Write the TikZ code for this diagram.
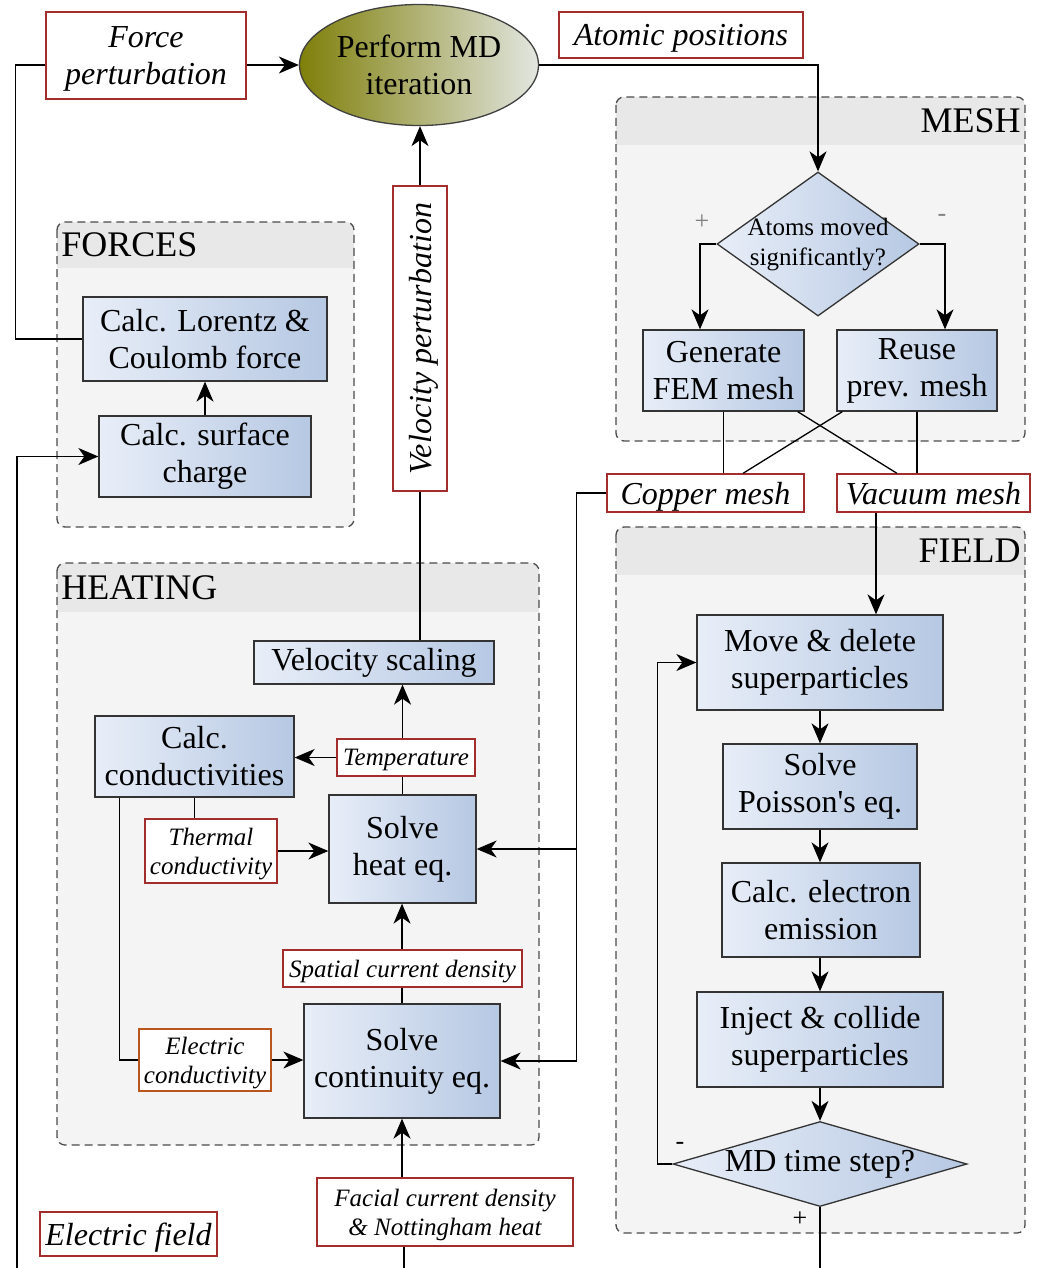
\documentclass[tikz,border=0pt]{standalone}
\usepackage{fontspec}
\setmainfont{Liberation Serif}
\usetikzlibrary{shapes.geometric,arrows.meta}
\definecolor{boxL}{HTML}{E8EEF8}
\definecolor{boxR}{HTML}{B6C8E3}
\definecolor{labred}{HTML}{A32D2D}
\definecolor{laborange}{HTML}{B8561E}
\definecolor{grpfill}{HTML}{F4F4F4}
\definecolor{grphead}{HTML}{E8E8E8}
\definecolor{grpline}{HTML}{4A4A4A}
\definecolor{oliveL}{HTML}{7F7F0A}
\definecolor{oliveR}{HTML}{E2E6E0}
\newcommand\mainf{\fontsize{16}{18.5}\selectfont}
\newcommand\smallf{\itshape\fontsize{12.5}{14.5}\selectfont}
\newcommand\bigit{\itshape\fontsize{16}{18.5}\selectfont}
\newcommand\grpf{\fontsize{18}{20}\selectfont}
\newcommand\mygroup[5]{%
  \begin{scope}
    \clip[rounded corners=4pt] (#1,#2) rectangle (#3,#4);
    \fill[grpfill] (#1,#2) rectangle (#3,#4);
    \fill[grphead] (#1,#2) rectangle (#3,#5);
  \end{scope}
  \draw[grpline, line width=0.65pt, dash pattern=on 4pt off 2.5pt, rounded corners=4pt] (#1,#2) rectangle (#3,#4);}
\tikzset{
  proc/.style={draw=black!80, line width=0.65pt, left color=boxL, right color=boxR, align=center, inner sep=0pt, font=\mainf},
  lab/.style={draw=labred, fill=white, line width=0.65pt, align=center, inner sep=0pt, text depth=0pt, font=\bigit},
  slab/.style={draw=labred, fill=white, line width=0.65pt, align=center, inner sep=0pt, text depth=0pt, font=\smallf},
  dia/.style={diamond, draw=black!80, line width=0.65pt, left color=boxL, right color=boxR, inner sep=0pt},
  arr/.style={-{Stealth[length=10pt,width=8.5pt,inset=3pt]}, line width=0.65pt},
  ln/.style={line width=0.65pt},
  grplab/.style={font=\grpf, inner sep=0pt},
  sign/.style={inner sep=0pt, font=\fontsize{13}{15}\selectfont}
}
\begin{document}
\begin{tikzpicture}[x=0.5pt,y=-0.5pt]
\useasboundingbox (0,0) rectangle (1050,1268);
% groups
\mygroup{616}{97}{1025}{441}{145}
\mygroup{57}{222}{354}{527}{268}
\mygroup{57}{563}{539}{1145}{612}
\mygroup{616}{527}{1025}{1233}{575}
\node[grplab, anchor=east] (gmesh) at (1021,121) {MESH};
\node[grplab, anchor=west] (gforces) at (61,245) {FORCES};
\node[grplab, anchor=west] (gheat) at (61,588) {HEATING};
\node[grplab, anchor=east] (gfield) at (1021,551) {FIELD};

% top
\node[ellipse, draw=black!75, line width=0.65pt, left color=oliveL, right color=oliveR, minimum width=119.5pt, minimum height=60.5pt, inner sep=0pt, align=center, font=\mainf] (md) at (419,65) {Perform MD\\iteration};
\node[lab, minimum width=100pt, minimum height=43.5pt] (force) at (146,55.5) {Force\\perturbation};
\node[lab, minimum width=122pt, minimum height=23pt] (atom) at (681,35) {Atomic positions};
\node[lab, rotate=90, minimum width=152.5pt, minimum height=27pt] (vp) at (420,338.5) {Velocity perturbation};

% mesh
\node[dia, minimum width=101pt, minimum height=72pt] (d1) at (818,244) {};
\node[align=center, inner sep=0pt, font=\fontsize{12.5}{15}\selectfont] (d1t) at (818,245) {Atoms moved\\significantly?};
\node[proc, minimum width=80.5pt, minimum height=40.5pt] (gen) at (723.5,370.5) {Generate\\FEM mesh};
\node[proc, minimum width=80pt, minimum height=40.5pt] (reuse) at (917,370.5) {Reuse\\prev. mesh};
\node[lab, minimum width=98.5pt, minimum height=19pt] (copper) at (705.5,493) {Copper mesh};
\node[lab, minimum width=96.5pt, minimum height=19pt] (vacuum) at (933.5,493) {Vacuum mesh};
\node[sign, text=black!50] (plus1) at (702,222) {+};
\node[sign, text=black!50] (minus1) at (942,218) {-};

% forces
\node[proc, minimum width=122pt, minimum height=42pt] (lor) at (205,339) {Calc. Lorentz \&\\Coulomb force};
\node[proc, minimum width=106pt, minimum height=40.5pt] (surf) at (205,456.5) {Calc. surface\\charge};

% heating
\node[proc, minimum width=120pt, minimum height=21.5pt] (vs) at (374,662.5) {Velocity scaling};
\node[proc, minimum width=99.5pt, minimum height=40.5pt] (cond) at (194.5,756.5) {Calc.\\conductivities};
\node[slab, minimum width=69pt, minimum height=18.5pt] (temp) at (406,757.5) {Temperature};
\node[proc, minimum width=73.5pt, minimum height=54pt] (heat) at (402.5,849) {Solve\\heat eq.};
\node[slab, minimum width=66pt, minimum height=32pt] (therm) at (211,851) {Thermal\\conductivity};
\node[slab, minimum width=119.5pt, minimum height=18.5pt] (spat) at (402.5,968.5) {Spatial current density};
\node[proc, minimum width=98pt, minimum height=57pt] (cont) at (402,1061) {Solve\\continuity eq.};
\node[slab, draw=laborange, minimum width=66pt, minimum height=31pt] (elec) at (205,1060) {Electric\\conductivity};
\node[slab, minimum width=128pt, minimum height=34pt, line width=0.9pt] (facial) at (445,1212) {Facial current density\\\& Nottingham heat};
\node[lab, minimum width=88.5pt, minimum height=22pt] (efield) at (128.5,1234) {Electric field};

% field
\node[proc, minimum width=123pt, minimum height=47.5pt] (move) at (820,662.5) {Move \& delete\\superparticles};
\node[proc, minimum width=97pt, minimum height=42.5pt] (pois) at (820,786.5) {Solve\\Poisson\textquotesingle s eq.};
\node[proc, minimum width=99pt, minimum height=47pt] (emis) at (821,910) {Calc. electron\\emission};
\node[proc, minimum width=123pt, minimum height=47.5pt] (inj) at (820,1039.5) {Inject \& collide\\superparticles};
\node[dia, minimum width=147pt, minimum height=42.5pt] (d2) at (820,1164) {};
\node[inner sep=0pt, font=\mainf] (d2t) at (820,1164) {MD time step?};
\node[sign] (minus2) at (680,1146) {-};
\node[sign] (plus2) at (800,1219) {+};

% free ends at the bottom edge
\coordinate (bl) at (17,1268);
\coordinate (bm) at (404,1268);
\coordinate (br) at (820,1268);

% connectors top
\draw[arr] (md.west -| force.east) -- (md.west);
\draw[ln] (lor.west) -- ++(-67,0) |- (md.west -| force.west);
\draw[arr] (md.east) -| (d1.north);
\draw[arr] (vp.east) -- (vp.east |- md.south);
\draw[ln] (vp.west) -- (vp.west |- vs.north);

% mesh connectors
\draw[arr] (d1.west) -| ([xshift=-11.75pt]gen.north);
\draw[arr] (d1.east) -| ([xshift=14pt]reuse.north);
\draw[ln] (gen.south) -- (gen.south |- copper.north);
\draw[ln] (reuse.south) -- (reuse.south |- vacuum.north);
\draw[ln] ([xshift=-3.5pt]gen.south east) -- ([xshift=-18.25pt]vacuum.north);
\draw[ln] ([xshift=3pt]reuse.south west) -- ([xshift=18.75pt]copper.north);
\path (copper.west) ++(-30,0) coordinate (cbus);
\draw[arr] (copper.west) -- (cbus) |- (cont.east);
\draw[arr] (cbus |- heat.east) -- (heat.east);
\draw[arr] ([xshift=-28.75pt]vacuum.south) -- ([xshift=-28.75pt]vacuum.south |- move.north);

% forces
\draw[arr] (surf.north) -- (lor.south);
\draw[arr] (bl) |- (surf.west);

% heating
\draw[ln] (heat.north) -- (heat.north |- temp.south);
\draw[arr] (heat.north |- temp.north) -- (heat.north |- vs.south);
\draw[arr] (temp.west) -- (temp.west -| cond.east);
\draw[ln] (cond.south) -- (cond.south |- therm.north);
\draw[arr] (therm.east) -- (therm.east -| heat.west);
\draw[ln] ([xshift=12.5pt]cond.south west) |- (elec.west);
\draw[arr] (elec.east) -- (elec.east -| cont.west);
\draw[ln] (cont.north) -- (cont.north |- spat.south);
\draw[arr] (cont.north |- spat.north) -- (cont.north |- heat.south);
\draw[arr] ([xshift=-21.5pt]facial.north) -- ([xshift=-21.5pt]facial.north |- cont.south);
\draw[ln] ([xshift=-20.5pt]facial.south) -- (bm);

% field
\draw[arr] (move.south) -- (move.south |- pois.north);
\draw[arr] (pois.south) -- (pois.south |- emis.north);
\draw[arr] (emis.south -| inj.north) -- (inj.north);
\draw[arr] (inj.south) -- (d2.north);
\draw[arr] (d2.west) -- ++(-15,0) |- (move.west);
\draw[ln] (d2.south) -- (br);
\end{tikzpicture}
\end{document}
